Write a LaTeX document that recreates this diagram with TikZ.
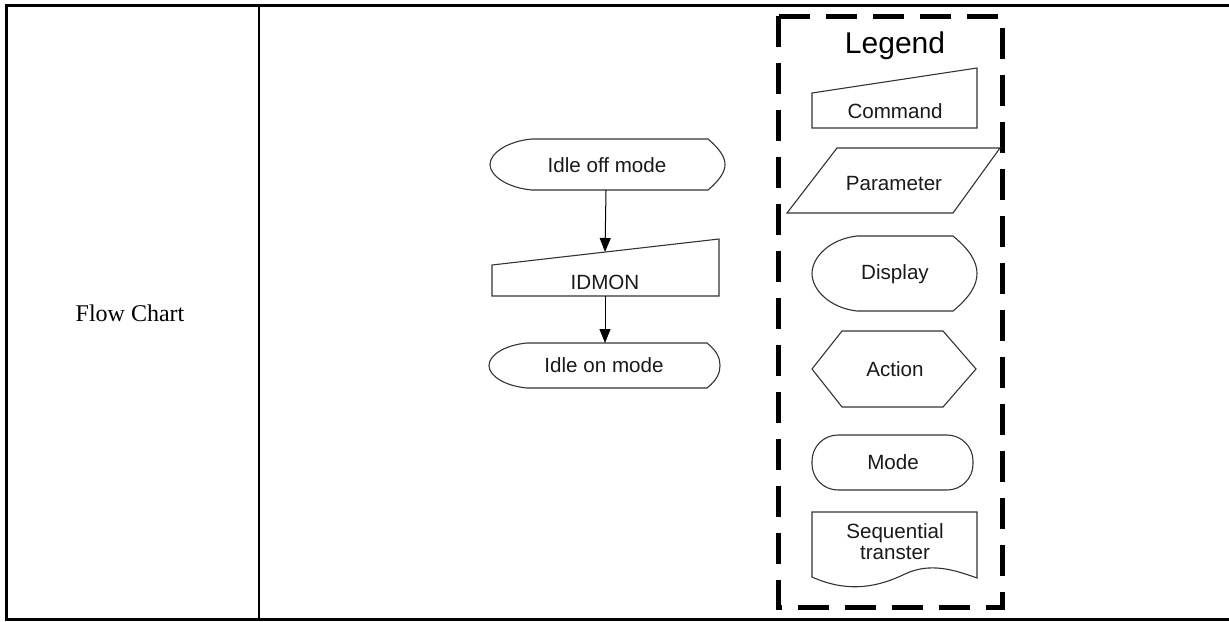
\documentclass[tikz,border=0pt]{standalone}
\usepackage{fontspec}
\setmainfont{Liberation Serif}
\setsansfont{Liberation Sans}
\usetikzlibrary{arrows.meta}
\tikzset{
  tline/.style={line width=1.5pt,black},
  dline/.style={line width=1pt,black},
  shp/.style={line width=0.55pt,draw=black!80},
  lbl/.style={font=\sffamily\fontsize{10.3}{11}\selectfont,inner sep=0pt,text=black!90},
  arr/.style={line width=0.5pt,-{Triangle[length=7pt,width=5.5pt]}},
  legbox/.style={line width=2.5pt,dash pattern=on 15.5pt off 8pt}
}
\begin{document}
\begin{tikzpicture}[x=0.5pt,y=-0.5pt]
\useasboundingbox (0,0) rectangle (1229,621);
% table
\draw[tline] (1229,5.5) -- (6.5,5.5) -- (6.5,619.7) -- (1229,619.7);
\draw[dline] (259.3,5.5) -- (259.3,619.7);
\node[font=\fontsize{12}{14}\selectfont,inner sep=0pt] (fc) at (130,313) {Flow Chart};
% flowchart shapes
\draw[shp] (532,139) -- (708,139) .. controls (721,150) and (725,158) .. (725,164.5)
  .. controls (725,171) and (721,179) .. (708,190) -- (532,190)
  .. controls (508,188) and (490,176) .. (490,164.5) .. controls (490,153) and (508,141) .. (532,139) -- cycle;
\node[lbl] (off) at (607,165) {Idle off mode};
\draw[shp] (492,265) -- (719,239) -- (719,296) -- (492,296) -- cycle;
\node[lbl] (idmon) at (605,282) {IDMON};
\draw[shp] (527,343) -- (707,343) .. controls (717,351) and (720,358) .. (720,365.5)
  .. controls (720,373) and (717,380) .. (707,388) -- (527,388)
  .. controls (505,386) and (489,376) .. (489,365.5) .. controls (489,355) and (505,345) .. (527,343) -- cycle;
\node[lbl] (on) at (604,365.5) {Idle on mode};
\coordinate (offb) at (606,190);
\coordinate (idmt) at (605,252);
\coordinate (idmb) at (605,296);
\coordinate (ont) at (605,343);
\draw[arr] (offb) -- (idmt);
\draw[arr] (idmb) -- (ont);
% legend
\draw[legbox] (778,16) rectangle (1002,607);
\node[font=\sffamily\fontsize{15}{18}\selectfont,inner sep=0pt] (leg) at (895,46) {Legend};
\draw[shp] (812,93) -- (977,68) -- (977,128) -- (812,128) -- cycle;
\node[lbl] (cmd) at (895,111) {Command};
\draw[shp] (837,148) -- (1000,148) -- (953,213) -- (787,213) -- cycle;
\node[lbl] (par) at (894,184) {Parameter};
\draw[shp] (857,236) -- (953,236) .. controls (970,250) and (977,262) .. (977,273.5)
  .. controls (977,285) and (970,297) .. (953,311) -- (857,311)
  .. controls (830,308) and (812,290) .. (812,273.5) .. controls (812,257) and (830,239) .. (857,236) -- cycle;
\node[lbl] (disp) at (895,274) {Display};
\draw[shp] (842,331) -- (943,331) -- (976,369) -- (943,407) -- (842,407) -- (812,369) -- cycle;
\node[lbl] (act) at (895,369) {Action};
\draw[shp,rounded corners=13pt] (812,435) rectangle (973,490);
\node[lbl] (mode) at (893,462) {Mode};
\draw[shp] (812,577) -- (812,512) -- (977,512) -- (977,578)
  .. controls (955,570) and (930,562) .. (905,574) .. controls (880,586) and (850,594) .. (812,577) -- cycle;
\node[lbl,align=center,font=\sffamily\fontsize{10.3}{10.5}\selectfont] (seq) at (895,542) {Sequential\\transter};
\end{tikzpicture}
\end{document}
